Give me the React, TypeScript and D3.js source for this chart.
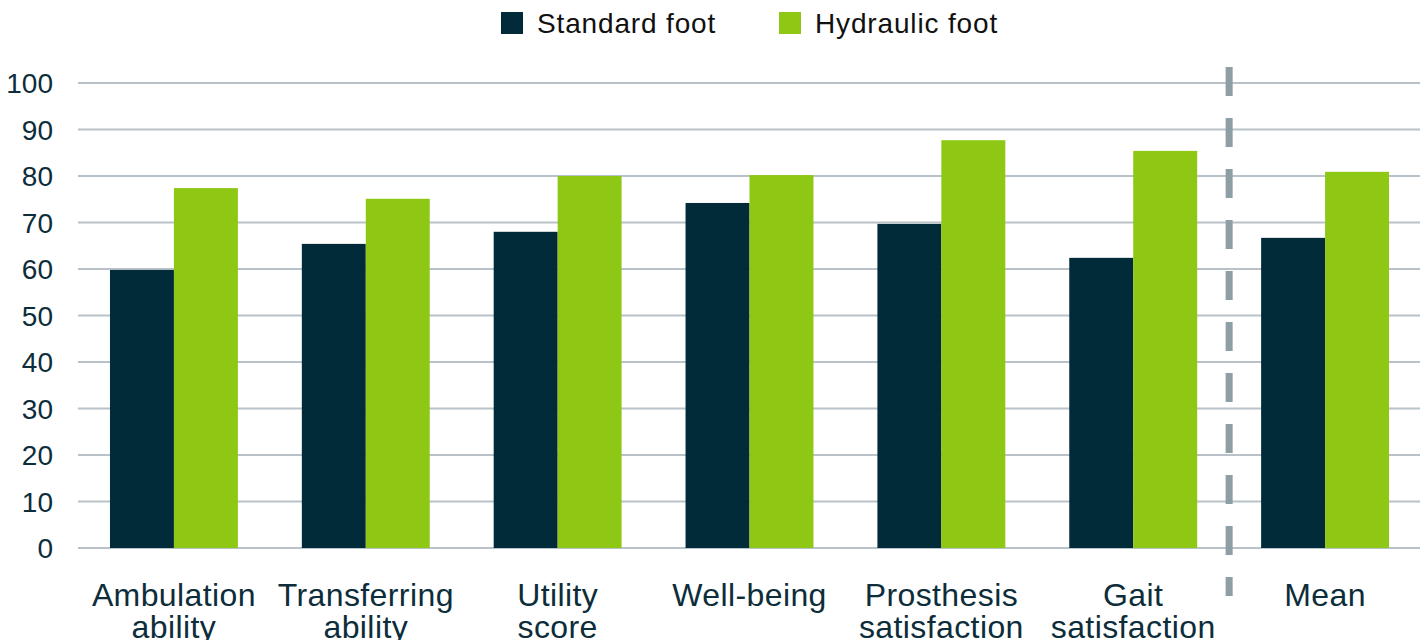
import React, { useEffect, useRef } from 'react';
import * as d3 from 'd3';

const categories = [
  ['Ambulation', 'ability'],
  ['Transferring', 'ability'],
  ['Utility', 'score'],
  ['Well-being'],
  ['Prosthesis', 'satisfaction'],
  ['Gait', 'satisfaction'],
  ['Mean'],
];
const standardFoot = [59.8, 65.4, 68.0, 74.2, 69.7, 62.4, 66.7];
const hydraulicFoot = [77.4, 75.1, 80.0, 80.2, 87.7, 85.4, 80.9];
const seriesNames = ['Standard foot', 'Hydraulic foot'];
const yTicks = [0, 10, 20, 30, 40, 50, 60, 70, 80, 90, 100];

const COLORS = ['#022b3a', '#8fc715'];
const TEXT = '#0d2d3a';
const FONT = '"Liberation Sans", Arial, sans-serif';

export default function App() {
  const svgRef = useRef<SVGSVGElement>(null);

  useEffect(() => {
    if (!svgRef.current) return;
    const svg = d3.select(svgRef.current);
    svg.selectAll('*').remove();

    const x = d3.scaleBand<number>()
      .domain(d3.range(categories.length))
      .range([78, 1421])
      .paddingInner(1 / 3)
      .paddingOuter(1 / 6);
    const xs = d3.scaleBand<number>()
      .domain([0, 1])
      .range([0, x.bandwidth()]);
    const y = d3.scaleLinear().domain([0, 100]).range([548, 83]);

    // grid lines
    svg.append('g')
      .selectAll('line')
      .data(yTicks)
      .join('line')
      .attr('x1', 78)
      .attr('x2', 1420)
      .attr('y1', d => y(d))
      .attr('y2', d => y(d))
      .attr('stroke', '#b8c2c8')
      .attr('stroke-width', 2);

    // y tick labels
    svg.append('g')
      .selectAll('text')
      .data(yTicks)
      .join('text')
      .attr('x', 53)
      .attr('y', d => y(d))
      .attr('dy', '0.36em')
      .attr('text-anchor', 'end')
      .attr('font-family', FONT)
      .attr('font-size', 28)
      .attr('fill', TEXT)
      .text(d => d);

    // bars
    const series = [standardFoot, hydraulicFoot];
    series.forEach((vals, si) => {
      svg.append('g')
        .selectAll('rect')
        .data(vals)
        .join('rect')
        .attr('x', (_, i) => (x(i) ?? 0) + (xs(si) ?? 0))
        .attr('y', d => y(d))
        .attr('width', xs.bandwidth())
        .attr('height', d => y(0) - y(d))
        .attr('fill', COLORS[si]);
    });

    // dashed separator between Gait and Mean
    const sepX = ((x(5) ?? 0) + x.bandwidth() + (x(6) ?? 0)) / 2;
    svg.append('line')
      .attr('x1', sepX)
      .attr('x2', sepX)
      .attr('y1', 67)
      .attr('y2', 596)
      .attr('stroke', '#8d9ea5')
      .attr('stroke-width', 7)
      .attr('stroke-dasharray', '29 22');

    // category labels (second lines run off the bottom, as in the source)
    const labels = svg.append('g')
      .selectAll('text')
      .data(categories)
      .join('text')
      .attr('x', (_, i) => (x(i) ?? 0) + x.bandwidth() / 2)
      .attr('y', 606)
      .attr('text-anchor', 'middle')
      .attr('font-family', FONT)
      .attr('font-size', 32)
      .attr('letter-spacing', 0.4)
      .attr('fill', TEXT);
    labels.selectAll('tspan')
      .data(d => d)
      .join('tspan')
      .attr('x', function () {
        return (this.parentNode as SVGTextElement).getAttribute('x');
      })
      .attr('dy', (_, j) => (j === 0 ? 0 : 32))
      .text(d => d);

    // legend
    const legendX = [501, 779];
    const legend = svg.append('g')
      .selectAll('g')
      .data(seriesNames)
      .join('g')
      .attr('transform', (_, i) => `translate(${legendX[i]},12)`);
    legend.append('rect')
      .attr('width', 22)
      .attr('height', 22)
      .attr('fill', (_, i) => COLORS[i]);
    legend.append('text')
      .attr('x', 36)
      .attr('y', 11)
      .attr('dy', '0.36em')
      .attr('font-family', FONT)
      .attr('font-size', 28)
      .attr('letter-spacing', 0.85)
      .attr('fill', '#111')
      .text(d => d);
  }, []);

  return (
    <svg
      ref={svgRef}
      width={1426}
      height={640}
      style={{ position: 'absolute', left: 0, top: 0, background: '#fff' }}
    />
  );
}
